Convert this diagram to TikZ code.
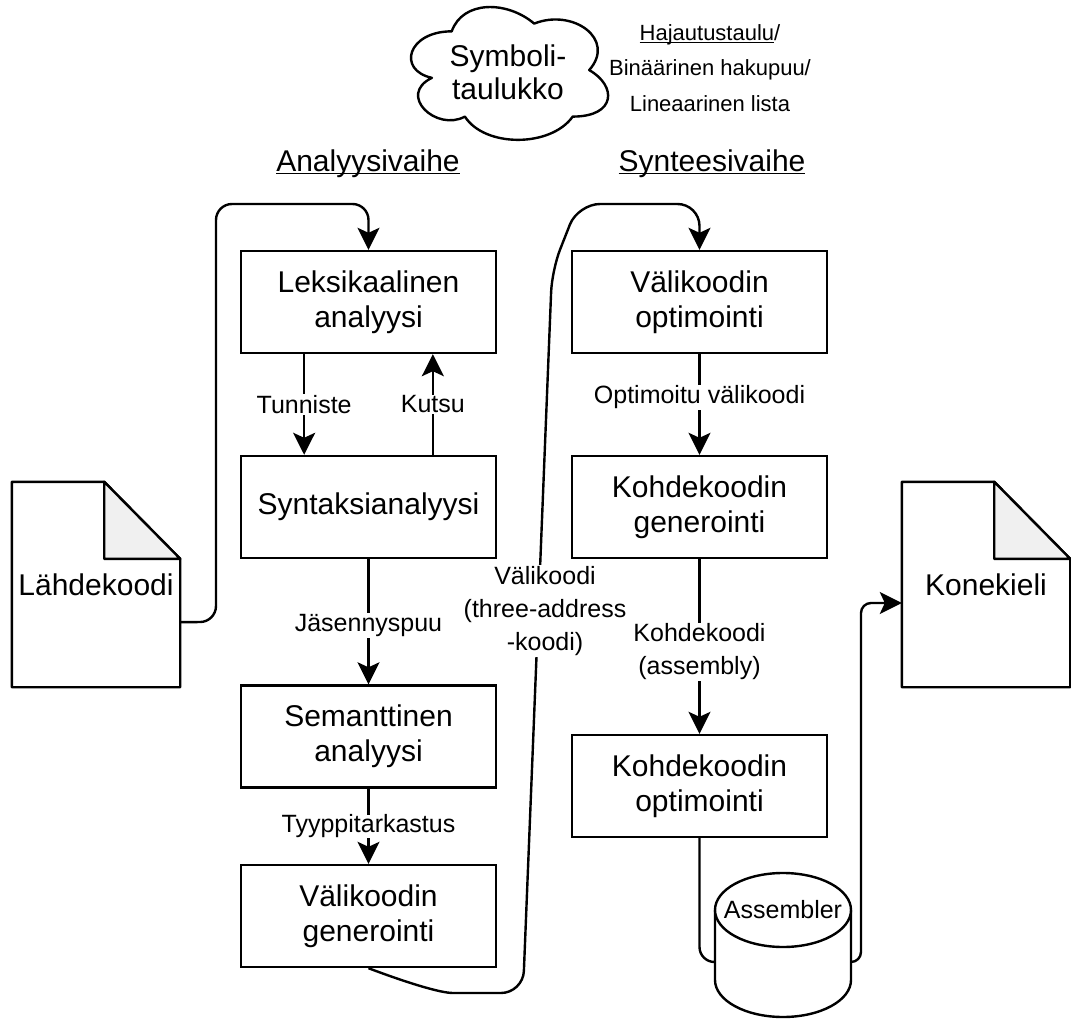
\documentclass[tikz,border=0pt]{standalone}
\usepackage{fontspec}
\setmainfont{Liberation Sans}
\usetikzlibrary{arrows.meta,calc}
\newcommand\ulin[1]{\underline{\smash{#1}}}

\begin{document}
\begin{tikzpicture}[x=1pt,y=-1pt,
  line/.style={line width=2.4pt, line join=round},
  arr/.style={line, -{Stealth[length=22pt,width=22pt,inset=5pt]}},
  stage/.style={draw, line width=2.4pt, minimum width=255pt, minimum height=102pt,
    align=center, font=\fontsize{30}{35}\selectfont},
  lbl/.style={fill=white, inner sep=1pt, align=center, font=\fontsize{25}{33}\selectfont},
  docbody/.style={minimum width=168pt, minimum height=205pt, inner sep=0pt,
    font=\fontsize{30}{35}\selectfont},
  docline/.style={line, fill=white},
  fold/.style={line, fill=black!6},
  heading/.style={font=\fontsize{30}{35}\selectfont},
  note/.style={align=center, font=\fontsize{22}{35.5}\selectfont}
]
\fill[white] (0,0) rectangle (1071,1019);
\useasboundingbox (0,0) rectangle (1071,1019);

% symbol table: cloud outline in unit box coordinates
\begin{scope}[shift={(396.7,-7.4)}, x=220pt, y=-155pt]
  \draw[line, fill=white] (0.25,0.25)
    .. controls (0.05,0.25) and (0,0.5) .. (0.16,0.55)
    .. controls (0,0.66) and (0.18,0.9) .. (0.31,0.8)
    .. controls (0.4,1) and (0.7,1) .. (0.8,0.8)
    .. controls (1,0.8) and (1,0.6) .. (0.875,0.5)
    .. controls (1,0.3) and (0.8,0.1) .. (0.625,0.2)
    .. controls (0.5,0.05) and (0.3,0.05) .. (0.25,0.25) -- cycle;
\end{scope}
\node[align=center, font=\fontsize{30}{33}\selectfont] (sym) at (508,72) {Symboli-\\taulukko};
\node[note] (impl) at (710,68) {\ulin{Hajautustaulu}/\\Binäärinen hakupuu/\\Lineaarinen lista};

% phase headings
\node[heading] (ana) at (368,173) {\ulin{Analyysivaihe}};
\node[heading] (syn-h) at (712,173) {\ulin{Synteesivaihe}};

% analysis phase
\node[stage] (lex) at (368.5,302) {Leksikaalinen\\analyysi};
\node[stage] (syn) at (368.5,507) {Syntaksianalyysi};
\node[stage] (sem) at (368.5,736.5) {Semanttinen\\analyysi};
\node[stage] (vgen) at (368.5,916) {Välikoodin\\generointi};

% synthesis phase
\node[stage] (vopt) at (699.5,302) {Välikoodin\\optimointi};
\node[stage] (kgen) at (699.5,507) {Kohdekoodin\\generointi};
\node[stage] (kopt) at (699.5,786) {Kohdekoodin\\optimointi};

% source and target documents
\node[docbody] (src) at (96,584.5) {};
\draw[docline] (src.north west) -- ($(src.north east)+(-76,0)$) -- ($(src.north east)+(0,77)$)
  -- (src.south east) -- (src.south west) -- cycle;
\draw[fold] ($(src.north east)+(-76,0)$) -- ($(src.north east)+(-76,77)$) -- ($(src.north east)+(0,77)$) -- cycle;
\node[docbody] at (src) {Lähdekoodi};

\node[docbody] (dst) at (986,584.5) {};
\draw[docline] (dst.north west) -- ($(dst.north east)+(-76,0)$) -- ($(dst.north east)+(0,77)$)
  -- (dst.south east) -- (dst.south west) -- cycle;
\draw[fold] ($(dst.north east)+(-76,0)$) -- ($(dst.north east)+(-76,77)$) -- ($(dst.north east)+(0,77)$) -- cycle;
\node[docbody] at (dst) {Konekieli};

% connectors of the analysis phase
\draw[arr, rounded corners=16] ($(src.south east)!0.317!(src.north east)$) -- (216,622) -- (216,204)
  -- (368.5,204) -- (lex.north);
\draw[arr] ($(lex.south west)!0.25!(lex.south east)$) -- node[lbl] {Tunniste}
  ($(syn.north west)!0.25!(syn.north east)$);
\draw[arr] ($(syn.north west)!0.75!(syn.north east)$) -- node[lbl] {Kutsu}
  ($(lex.south west)!0.75!(lex.south east)$);
\draw[arr] (syn.south) -- node[lbl, pos=0.53] {Jäsennyspuu} (sem.north);
\draw[arr] (sem.south) -- node[lbl, inner sep=0pt, pos=0.5] {Tyyppitarkastus} (vgen.north);

% intermediate code handed over to the synthesis phase
\draw[arr, rounded corners=22] (vgen.south) .. controls (405,982) and (440,993) .. (475,993)
  -- (523,993) -- (552,270) -- (578,204) -- (699.5,204) -- (vopt.north);
\node[lbl] (ir) at (545,611) {Välikoodi\\(three-address\\-koodi)};

% connectors of the synthesis phase
\draw[arr] (vopt.south) -- node[lbl, pos=0.43] {Optimoitu välikoodi} (kgen.north);
\draw[arr] (kgen.south) -- node[lbl, pos=0.53] {Kohdekoodi\\(assembly)} (kopt.north);

% assembler
\coordinate (asmL) at (715,962);
\coordinate (asmR) at (851,962);
\draw[line, rounded corners=15] (kopt.south) |- (asmL);
\draw[arr, rounded corners=10] (asmR) -- (861,962) -- (861,603)
  -- ($(dst.south west)!0.41!(dst.north west)$);
\draw[line, fill=white] (715,910) -- (715,980) arc[start angle=180, end angle=360,
  x radius=68pt, y radius=37pt] -- (851,910);
\draw[line, fill=white] (783,910) ellipse[x radius=68pt, y radius=37pt];
\node[font=\fontsize{25}{30}\selectfont, inner sep=0pt] (asm) at (783,910) {Assembler};
\end{tikzpicture}
\end{document}
